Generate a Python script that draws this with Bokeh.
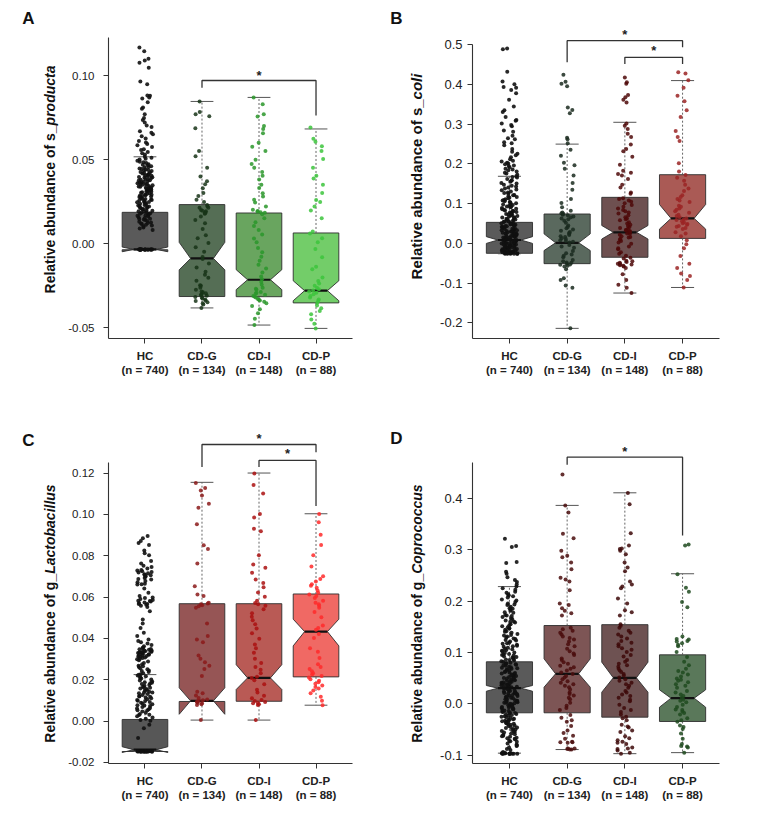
import math
from bokeh.plotting import figure
from bokeh.models import ColumnDataSource, FixedTicker, NumeralTickFormatter
from bokeh.transform import jitter
from bokeh.layouts import row, column
from bokeh.embed import file_html
from bokeh.resources import INLINE
from bokeh.core.properties import value

# ---------------- shared categories ----------------
categories = ["HC", "CD-G", "CD-I", "CD-P"]
n_labels = ["(n = 740)", "(n = 134)", "(n = 148)", "(n = 88)"]

# ---------------- Panel A : s_producta ----------------
A_yticks = [-0.05, 0.0, 0.05, 0.10]
A_whis_lo = [-0.0036, -0.0383, -0.0485, -0.0505]
A_q1 = [-0.0036, -0.0315, -0.0316, -0.0353]
A_notch_lo = [-0.0048, -0.0156, -0.0274, -0.0340]
A_median = [-0.0034, -0.0088, -0.0215, -0.0280]
A_notch_hi = [-0.0020, 0.0008, -0.0155, -0.0221]
A_q3 = [0.0187, 0.0233, 0.0183, 0.0064]
A_whis_hi = [0.0518, 0.0848, 0.0872, 0.0684]
A_HC = [-0.0036, -0.0035, -0.0034, -0.0035, -0.0036, -0.0034, -0.0035, -0.0033, -0.0035, -0.0034,
        -0.0036, -0.0035, -0.0034, -0.0035, 0.0082, 0.0097, 0.0104, 0.0113, 0.0118, 0.0127, 0.0131,
        0.0141, 0.0147, 0.0153, 0.0158, 0.0166, 0.0171, 0.0176, 0.0185, 0.0191, 0.0196, 0.0204, 0.0211,
        0.0216, 0.0222, 0.0228, 0.0234, 0.0241, 0.0245, 0.0252, 0.0259, 0.0263, 0.0268, 0.0275, 0.0281,
        0.0287, 0.0292, 0.0297, 0.0304, 0.0309, 0.0315, 0.0321, 0.0326, 0.0333, 0.0337, 0.0344, 0.0349,
        0.0356, 0.0361, 0.0367, 0.0372, 0.0378, 0.0386, 0.0391, 0.0397, 0.0405, 0.0412, 0.0418, 0.0425,
        0.0433, 0.0442, 0.0448, 0.0457, 0.0467, 0.0474, 0.0485, 0.0494, 0.0507, 0.0518, 0.0532, 0.0546,
        0.0563, 0.0577, 0.0594, 0.0612, 0.0627, 0.0653, 0.0671, 0.0695, 0.0722, 0.0749, 0.0772, 0.0805,
        0.0843, 0.0866, 0.0882, 0.0951, 0.0967, 0.1049, 0.1078, 0.1102, 0.1147, 0.1169,
        -0.0035, -0.0034, -0.0036, -0.0035, -0.0033, 0.0091, 0.0108, 0.0123, 0.0136, 0.0144, 0.0162,
        0.0169, 0.0181, 0.0188, 0.0199, 0.0207, 0.0218, 0.0225, 0.0238, 0.0249, 0.0255, 0.0266, 0.0272,
        0.0284, 0.0289, 0.0301, 0.0312, 0.0318, 0.0329, 0.0335, 0.0341, 0.0352, 0.0358, 0.0364, 0.0376,
        0.0383, 0.0394, 0.0401, 0.0409, 0.0415, 0.0422, 0.0437, 0.0445, 0.0462, 0.0481, 0.0502, 0.0539,
        0.0587, 0.0641, 0.0705, 0.0812, 0.0884, 0.1092,
        0.0121, 0.0149, 0.0178, 0.0194, 0.0213, 0.0231, 0.0247, 0.0261, 0.0279, 0.0294, 0.0306,
        0.0323, 0.0339, 0.0354, 0.0369, 0.0381, 0.0396, 0.0408, 0.0427, 0.0439, 0.0455, 0.0471,
        0.0489, 0.0512, 0.0558, 0.0603, 0.0662, 0.0738, 0.0872]
A_CDG = [0.0848, 0.0785, 0.0772, 0.0760, 0.0688, 0.0553, 0.0521, 0.0452, 0.0401, 0.0372, 0.0355,
         0.0331, 0.0302, 0.0285, 0.0262, 0.0248, 0.0231, 0.0222, 0.0214, 0.0201, 0.0193, 0.0188,
         0.0179, 0.0162, 0.0141, 0.0122, 0.0088, 0.0051, 0.0032, 0.0004, -0.0021, -0.0048, -0.0079,
         -0.0092, -0.0118, -0.0142, -0.0168, -0.0185, -0.0203, -0.0221, -0.0248, -0.0262, -0.0274,
         -0.0289, -0.0295, -0.0302, -0.0311, -0.0318, -0.0326, -0.0333, -0.0341, -0.0349, -0.0355,
         -0.0362, -0.0383, 0.0215, 0.0196, 0.0182, -0.0251, -0.0285, -0.0306, -0.0322, -0.0338]
A_CDI = [0.0872, 0.0831, 0.0772, 0.0758, 0.0701, 0.0683, 0.0659, 0.0602, 0.0578, 0.0552, 0.0501,
         0.0475, 0.0452, 0.0428, 0.0405, 0.0382, 0.0351, 0.0332, 0.0301, 0.0281, 0.0262, 0.0245,
         0.0221, 0.0203, 0.0195, 0.0188, 0.0176, 0.0152, 0.0128, 0.0105, 0.0082, 0.0055, 0.0031,
         0.0008, -0.0025, -0.0051, -0.0078, -0.0102, -0.0125, -0.0148, -0.0172, -0.0195, -0.0212,
         -0.0228, -0.0245, -0.0262, -0.0275, -0.0288, -0.0297, -0.0305, -0.0312, -0.0321, -0.0329,
         -0.0338, -0.0346, -0.0355, -0.0372, -0.0391, -0.0415, -0.0448, -0.0485, 0.0192, 0.0185,
         -0.0268, -0.0292, -0.0316, -0.0334]
A_CDP = [0.0692, 0.0625, 0.0608, 0.0581, 0.0552, 0.0505, 0.0452, 0.0405, 0.0388, 0.0351, 0.0302,
         0.0261, 0.0248, 0.0221, 0.0198, 0.0152, 0.0072, 0.0061, 0.0032, 0.0008, -0.0032, -0.0081,
         -0.0138, -0.0152, -0.0201, -0.0222, -0.0238, -0.0251, -0.0262, -0.0271, -0.0279, -0.0285,
         -0.0292, -0.0301, -0.0312, -0.0321, -0.0332, -0.0341, -0.0352, -0.0368, -0.0385, -0.0402,
         -0.0421, -0.0452, -0.0478, -0.0505]
A_br_from = [2]
A_br_to = [4]
A_br_top = [0.0973]
A_br_left = [0.0929]
A_br_right = [0.0764]
A_star_y = [0.1003]

# ---------------- Panel B : s_coli ----------------
B_yticks = [-0.2, -0.1, 0.0, 0.1, 0.2, 0.3, 0.4, 0.5]
B_whis_lo = [-0.026, -0.214, -0.125, -0.111]
B_q1 = [-0.025, -0.051, -0.035, 0.0126]
B_notch_lo = [0.000, -0.018, 0.011, 0.036]
B_median = [0.0085, 0.0015, 0.028, 0.063]
B_notch_hi = [0.017, 0.024, 0.045, 0.098]
B_q3 = [0.053, 0.074, 0.116, 0.173]
B_whis_hi = [0.169, 0.250, 0.305, 0.410]
B_HC = [-0.027, -0.026, -0.026, -0.025, -0.025, -0.024, -0.023, -0.022, -0.021, -0.020, -0.019,
        -0.018, -0.016, -0.015, -0.013, -0.012, -0.010, -0.009, -0.007, -0.006, -0.004, -0.003,
        -0.001, 0.000, 0.002, 0.003, 0.005, 0.006, 0.008, 0.009, 0.011, 0.013, 0.015, 0.017, 0.019,
        0.021, 0.023, 0.025, 0.028, 0.030, 0.033, 0.035, 0.038, 0.041, 0.044, 0.047, 0.050, 0.053,
        0.056, 0.059, 0.062, 0.066, 0.070, 0.073, 0.077, 0.081, 0.085, 0.089, 0.093, 0.097, 0.101,
        0.106, 0.111, 0.117, 0.122, 0.128, 0.134, 0.141, 0.148, 0.155, 0.162, 0.169, 0.176, 0.184,
        0.192, 0.199, 0.203, 0.208, 0.217, 0.226, 0.238, 0.247, 0.255, 0.262, 0.271, 0.284, 0.295,
        0.302, 0.311, 0.318, 0.331, 0.345, 0.362, 0.378, 0.386, 0.392, 0.401, 0.408, 0.432, 0.491, 0.489,
        -0.026, -0.025, -0.024, -0.022, -0.020, -0.017, -0.014, -0.011, -0.008, -0.005, -0.002, 0.001,
        0.004, 0.007, 0.010, 0.012, 0.014, 0.016, 0.018, 0.020, 0.022, 0.024, 0.027, 0.029, 0.031,
        0.034, 0.036, 0.039, 0.042, 0.045, 0.048, 0.051, 0.055, 0.058, 0.061, 0.064, 0.068, 0.072,
        0.075, 0.079, 0.083, 0.087, 0.091, 0.095, 0.099, 0.104, 0.109, 0.114, 0.119, 0.125, 0.131,
        0.138, 0.145, 0.152, 0.159, 0.166, 0.173, 0.181, 0.188, 0.195, 0.201, 0.212, 0.231, 0.265,
        0.298, 0.335, 0.394,
        -0.026, -0.025, -0.023, -0.021, -0.018, -0.015, -0.012, -0.009, -0.006, -0.003, 0.000, 0.003,
        0.006, 0.009, 0.012, 0.015, 0.018, 0.021, 0.024, 0.027, 0.030, 0.033, 0.037, 0.040, 0.043,
        0.046, 0.049, 0.054, 0.057, 0.060, 0.065, 0.069, 0.074, 0.078, 0.082, 0.086, 0.092, 0.098,
        0.103, 0.108, 0.115, 0.121, 0.127, 0.136, 0.143, 0.151, 0.158, 0.167, 0.178, 0.186, 0.196,
        0.206, 0.222, 0.252, 0.281, 0.309]
B_CDG = [-0.214, -0.112, -0.106, -0.092, -0.088, -0.065, -0.058, -0.054, -0.051, -0.048, -0.042,
         -0.035, -0.028, -0.019, -0.011, -0.004, 0.002, 0.006, 0.011, 0.016, 0.021, 0.026, 0.032,
         0.038, 0.045, 0.052, 0.061, 0.068, 0.072, 0.076, 0.082, 0.091, 0.102, 0.112, 0.135, 0.152,
         0.171, 0.188, 0.197, 0.203, 0.221, 0.236, 0.252, 0.262, 0.266, 0.328, 0.336, 0.342, 0.396,
         0.402, 0.407, 0.425, -0.056, -0.049, -0.031, 0.008, 0.018, 0.035, 0.066, 0.071, 0.078,
         -0.053, -0.045, -0.025, -0.008, 0.004, 0.013, 0.024, 0.029, 0.041, 0.057, 0.063, 0.074]
B_CDI = [-0.125, -0.112, -0.104, -0.092, -0.078, -0.062, -0.058, -0.053, -0.049, -0.045, -0.038,
         -0.031, -0.022, -0.015, -0.008, -0.001, 0.006, 0.012, 0.018, 0.022, 0.027, 0.031, 0.036,
         0.041, 0.047, 0.053, 0.058, 0.063, 0.071, 0.078, 0.084, 0.092, 0.101, 0.108, 0.114, 0.128,
         0.148, 0.162, 0.171, 0.178, 0.183, 0.198, 0.218, 0.238, 0.249, 0.268, 0.276, 0.288, 0.296,
         0.302, 0.355, 0.362, 0.368, 0.374, 0.402, 0.406, 0.418, -0.055, -0.051, -0.047, 0.015,
         0.024, 0.033, 0.044, 0.066, 0.088, -0.056, -0.052, -0.044, -0.036, -0.026, -0.012, 0.002,
         0.009, 0.016, 0.025, 0.029, 0.034, 0.039, 0.050, 0.061, 0.075, 0.081, 0.097, 0.105, 0.112,
         0.125, 0.141, 0.175, 0.232]
B_CDP = [-0.111, -0.092, -0.082, -0.076, -0.062, -0.051, -0.032, -0.012, -0.002, 0.008, 0.018,
         0.028, 0.036, 0.042, 0.047, 0.051, 0.056, 0.061, 0.066, 0.072, 0.081, 0.088, 0.095, 0.104,
         0.112, 0.121, 0.132, 0.148, 0.158, 0.172, 0.181, 0.202, 0.258, 0.268, 0.283, 0.318, 0.335,
         0.358, 0.372, 0.392, 0.411, 0.428, 0.431, 0.025, 0.039, 0.044, 0.049, 0.053, 0.059, 0.063,
         0.069, 0.077, 0.085, 0.092, 0.108, 0.117, 0.138, 0.165]
B_br_from = [2, 3]
B_br_to = [4, 4]
B_br_top = [0.5106, 0.4686]
B_br_left = [0.456, 0.452]
B_br_right = [0.494, 0.452]
B_star_y = [0.527, 0.485]

# ---------------- Panel C : g_Lactobacillus ----------------
C_yticks = [-0.02, 0.0, 0.02, 0.04, 0.06, 0.08, 0.10, 0.12]
C_whis_lo = [-0.0147, 0.0005, 0.0005, 0.0077]
C_q1 = [-0.0147, 0.0095, 0.0096, 0.0214]
C_notch_lo = [-0.0152, 0.0033, 0.0153, 0.0364]
C_median = [-0.0138, 0.0098, 0.0209, 0.0433]
C_notch_hi = [-0.0124, 0.0161, 0.0273, 0.0493]
C_q3 = [0.0008, 0.0568, 0.0568, 0.0615]
C_whis_hi = [0.0225, 0.1155, 0.1200, 0.1003]
C_HC = [-0.0148, -0.0147, -0.0146, -0.0145, -0.0147, -0.0146, -0.0148, -0.0145, -0.0147, -0.0146,
        -0.0145, -0.0147, -0.0146, -0.0148, -0.0082, -0.0035, -0.0018, 0.0002, 0.0011, 0.0023,
        0.0035, 0.0041, 0.0052, 0.0061, 0.0068, 0.0077, 0.0085, 0.0093, 0.0102, 0.0111, 0.0118,
        0.0126, 0.0135, 0.0142, 0.0151, 0.0158, 0.0166, 0.0175, 0.0183, 0.0192, 0.0201, 0.0212,
        0.0221, 0.0232, 0.0245, 0.0256, 0.0268, 0.0281, 0.0295, 0.0302, 0.0308, 0.0315, 0.0321,
        0.0326, 0.0331, 0.0335, 0.0338, 0.0342, 0.0348, 0.0356, 0.0368, 0.0382, 0.0395, 0.0412,
        0.0428, 0.0451, 0.0472, 0.0492, 0.0531, 0.0552, 0.0563, 0.0571, 0.0578, 0.0586, 0.0595,
        0.0605, 0.0621, 0.0642, 0.0661, 0.0672, 0.0685, 0.0698, 0.0706, 0.0715, 0.0725, 0.0738,
        0.0752, 0.0775, 0.0802, 0.0825, 0.0852, 0.0871, 0.0884, 0.0896,
        -0.0147, -0.0146, -0.0148, -0.0145, -0.0147, -0.0146, 0.0006, 0.0017, 0.0029, 0.0046, 0.0057,
        0.0064, 0.0073, 0.0081, 0.0089, 0.0097, 0.0106, 0.0114, 0.0122, 0.0131, 0.0139, 0.0147,
        0.0155, 0.0162, 0.0171, 0.0179, 0.0188, 0.0196, 0.0206, 0.0217, 0.0227, 0.0238, 0.0251,
        0.0262, 0.0275, 0.0288, 0.0305, 0.0312, 0.0318, 0.0324, 0.0329, 0.0333, 0.0337, 0.0345,
        0.0352, 0.0362, 0.0375, 0.0388, 0.0558, 0.0566, 0.0574, 0.0582, 0.0591, 0.0662, 0.0678,
        0.0692, 0.0702, 0.0711, 0.0721, 0.0731, 0.0745, 0.0762, 0.0812, 0.0862,
        0.0031, 0.0052, 0.0075, 0.0098, 0.0119, 0.0138, 0.0161, 0.0185, 0.0208, 0.0224, 0.0243,
        0.0265, 0.0299, 0.0311, 0.0319, 0.0327, 0.0332, 0.0336, 0.0341, 0.0349, 0.0566, 0.0581,
        0.0598, 0.0665, 0.0688, 0.0708, 0.0719, 0.0728, -0.0147, -0.0146, -0.0145]
C_CDG = [0.0005, 0.0078, 0.0082, 0.0086, 0.0089, 0.0092, 0.0095, 0.0098, 0.0101, 0.0105, 0.0112,
         0.0124, 0.0135, 0.0142, 0.0218, 0.0252, 0.0268, 0.0285, 0.0302, 0.0318, 0.0381, 0.0395,
         0.0412, 0.0472, 0.0548, 0.0556, 0.0561, 0.0565, 0.0569, 0.0573, 0.0605, 0.0612, 0.0652,
         0.0762, 0.0832, 0.0851, 0.0952, 0.1032, 0.1052, 0.1091, 0.1115, 0.1128, 0.1152]
C_CDI = [0.0005, 0.0078, 0.0082, 0.0086, 0.0089, 0.0093, 0.0097, 0.0102, 0.0111, 0.0123, 0.0138,
         0.0152, 0.0178, 0.0198, 0.0208, 0.0215, 0.0232, 0.0248, 0.0262, 0.0281, 0.0302, 0.0331,
         0.0352, 0.0371, 0.0398, 0.0425, 0.0448, 0.0468, 0.0488, 0.0505, 0.0522, 0.0541, 0.0558,
         0.0565, 0.0571, 0.0582, 0.0602, 0.0622, 0.0648, 0.0668, 0.0685, 0.0718, 0.0742, 0.0758,
         0.0802, 0.0918, 0.0931, 0.0985, 0.1002, 0.1101, 0.1142, 0.1198]
C_CDP = [0.0077, 0.0098, 0.0118, 0.0135, 0.0148, 0.0158, 0.0165, 0.0172, 0.0181, 0.0188, 0.0195,
         0.0202, 0.0211, 0.0218, 0.0225, 0.0232, 0.0241, 0.0252, 0.0262, 0.0275, 0.0305, 0.0335,
         0.0352, 0.0402, 0.0421, 0.0442, 0.0451, 0.0462, 0.0502, 0.0528, 0.0548, 0.0558, 0.0565,
         0.0572, 0.0582, 0.0595, 0.0605, 0.0612, 0.0621, 0.0632, 0.0645, 0.0655, 0.0662, 0.0675,
         0.0688, 0.0701, 0.0748, 0.0802, 0.0852, 0.0902, 0.0962, 0.1002]
C_br_from = [2, 3]
C_br_to = [4, 4]
C_br_top = [0.1338, 0.1261]
C_br_left = [0.1229, 0.1229]
C_br_right = [0.1301, 0.1040]
C_star_y = [0.1366, 0.1294]

# ---------------- Panel D : g_Coprococcus ----------------
D_yticks = [-0.1, 0.0, 0.1, 0.2, 0.3, 0.4]
D_whis_lo = [-0.096, -0.089, -0.097, -0.095]
D_q1 = [-0.0175, -0.0175, -0.026, -0.0344]
D_notch_lo = [0.0245, 0.0323, 0.0226, -0.0066]
D_median = [0.0304, 0.0584, 0.0506, 0.011]
D_notch_hi = [0.0356, 0.0875, 0.081, 0.0272]
D_q3 = [0.0817, 0.1523, 0.154, 0.0953]
D_whis_hi = [0.228, 0.386, 0.4105, 0.253]
D_HC = [-0.097, -0.097, -0.096, -0.097, -0.096, -0.097, -0.096, -0.097, -0.096, -0.097,
        -0.088, -0.082, -0.079, -0.074, -0.072, -0.067, -0.064, -0.062, -0.058, -0.055, -0.053,
        -0.049, -0.047, -0.043, -0.041, -0.038, -0.035, -0.034, -0.031, -0.027, -0.026, -0.023,
        -0.021, -0.018, -0.016, -0.014, -0.011, -0.009, -0.008, -0.005, -0.004, -0.001, 0.001,
        0.003, 0.004, 0.007, 0.008, 0.011, 0.012, 0.015, 0.016, 0.019, 0.021, 0.022, 0.025, 0.026,
        0.029, 0.031, 0.032, 0.034, 0.037, 0.038, 0.041, 0.042, 0.045, 0.047, 0.049, 0.052, 0.053,
        0.056, 0.058, 0.061, 0.063, 0.066, 0.068, 0.071, 0.074, 0.077, 0.079, 0.083, 0.085, 0.089,
        0.092, 0.095, 0.097, 0.102, 0.104, 0.109, 0.112, 0.117, 0.119, 0.124, 0.127, 0.133, 0.136,
        0.141, 0.146, 0.151, 0.158, 0.162, 0.169, 0.173, 0.181, 0.185, 0.192, 0.198, 0.207, 0.213,
        0.222, 0.228, 0.237, 0.246, 0.253, 0.257, 0.274, 0.276, 0.305, 0.307, 0.321,
        -0.097, -0.096, -0.097, -0.096, -0.085, -0.077, -0.069, -0.066, -0.060, -0.056, -0.051,
        -0.045, -0.042, -0.039, -0.036, -0.032, -0.029, -0.024, -0.022, -0.019, -0.017, -0.013,
        -0.010, -0.007, -0.003, 0.000, 0.002, 0.005, 0.009, 0.013, 0.017, 0.020, 0.023, 0.027,
        0.030, 0.033, 0.036, 0.039, 0.043, 0.046, 0.050, 0.054, 0.057, 0.060, 0.065, 0.069, 0.072,
        0.076, 0.080, 0.084, 0.087, 0.091, 0.096, 0.100, 0.106, 0.111, 0.115, 0.121, 0.126, 0.131,
        0.138, 0.144, 0.149, 0.155, 0.160, 0.166, 0.171, 0.177, 0.183, 0.189, 0.195, 0.203, 0.211,
        0.218, 0.232, 0.241,
        -0.094, -0.090, -0.081, -0.073, -0.068, -0.063, -0.059, -0.054, -0.050, -0.046, -0.040,
        -0.037, -0.033, -0.030, -0.025, -0.020, -0.015, -0.012, -0.006, -0.002, 0.002, 0.006,
        0.010, 0.014, 0.018, 0.021, 0.024, 0.028, 0.031, 0.035, 0.038, 0.040, 0.044, 0.048, 0.051,
        0.055, 0.059, 0.062, 0.067, 0.070, 0.075, 0.078, 0.082, 0.086, 0.090, 0.094, 0.099, 0.103,
        0.107, 0.113, 0.118, 0.123, 0.129, 0.134, 0.140, 0.147, 0.153, 0.159, 0.165, 0.172, 0.178,
        0.186, 0.193, 0.201, 0.209, 0.216, 0.225]
D_CDG = [-0.089, -0.089, -0.088, -0.087, -0.076, -0.075, -0.074, -0.062, -0.052, -0.043, -0.032,
         -0.022, -0.012, -0.004, 0.002, 0.009, 0.016, 0.022, 0.028, 0.035, 0.041, 0.048, 0.054,
         0.061, 0.068, 0.074, 0.081, 0.088, 0.095, 0.102, 0.112, 0.121, 0.128, 0.135, 0.142, 0.148,
         0.172, 0.181, 0.186, 0.192, 0.221, 0.238, 0.245, 0.262, 0.275, 0.288, 0.298, 0.322, 0.331,
         0.372, 0.386, 0.446, -0.068, -0.035, 0.012, 0.044, 0.058, 0.065, 0.107, 0.125, 0.138,
         -0.087, -0.075, -0.057, -0.027, -0.008, 0.019, 0.032, 0.038, 0.051, 0.071, 0.078, 0.085,
         0.098, 0.116, 0.131, 0.145, 0.176, 0.195, 0.242, 0.285]
D_CDI = [-0.097, -0.091, -0.088, -0.085, -0.078, -0.074, -0.071, -0.063, -0.055, -0.046, -0.041,
         -0.032, -0.025, -0.016, -0.008, -0.002, 0.005, 0.012, 0.018, 0.025, 0.031, 0.038, 0.045,
         0.051, 0.058, 0.065, 0.072, 0.078, 0.085, 0.092, 0.101, 0.108, 0.116, 0.122, 0.131, 0.138,
         0.148, 0.155, 0.172, 0.182, 0.195, 0.205, 0.225, 0.232, 0.238, 0.258, 0.275, 0.291, 0.298,
         0.302, 0.308, 0.332, 0.388, 0.410, -0.052, -0.021, 0.008, 0.041, 0.055, 0.062, 0.095,
         0.112, 0.127, -0.095, -0.087, -0.076, -0.067, -0.044, -0.028, -0.012, 0.015, 0.022, 0.035,
         0.048, 0.068, 0.075, 0.082, 0.105, 0.119, 0.135, 0.142, 0.152, 0.178, 0.228, 0.265, 0.301]
D_CDP = [-0.095, -0.085, -0.082, -0.078, -0.068, -0.058, -0.049, -0.042, -0.035, -0.028, -0.021,
         -0.015, -0.011, -0.006, -0.002, 0.003, 0.008, 0.012, 0.018, 0.025, 0.031, 0.038, 0.045,
         0.049, 0.053, 0.061, 0.068, 0.075, 0.082, 0.091, 0.101, 0.112, 0.118, 0.122, 0.126, 0.131,
         0.188, 0.198, 0.218, 0.226, 0.252, 0.308, 0.310, -0.083, -0.045, -0.032, -0.018, -0.012,
         0.006, 0.015, 0.022, 0.035, 0.042, 0.047, 0.057, 0.064, 0.115, 0.121, 0.125]
D_br_from = [2]
D_br_to = [4]
D_br_top = [0.4798]
D_br_left = [0.4650]
D_br_right = [0.3274]
D_star_y = [0.4914]

# ---------------- colours ----------------
A_box_colors = ["#5a5a5a", "#556e55", "#69a55f", "#73cd69"]
A_pt_colors = ["#111111", "#173417", "#2a962a", "#3cc43c"]
B_box_colors = ["#5a5a5a", "#5a695e", "#6e5050", "#aa5a55"]
B_pt_colors = ["#111111", "#1a2a1e", "#4d0808", "#9b2525"]
C_box_colors = ["#575757", "#965555", "#b95a55", "#f06964"]
C_pt_colors = ["#111111", "#8b1a1a", "#aa1111", "#ff2a2a"]
D_box_colors = ["#5a5a5a", "#7d5555", "#6e5252", "#5a785a"]
D_pt_colors = ["#111111", "#4a0d0d", "#3d0808", "#1f4a1f"]

FONT = "Liberation Sans"
BOLD_W = {'R': .722, 'e': .556, 'l': .278, 'a': .556, 't': .333, 'i': .278, 'v': .556, ' ': .278,
          'b': .611, 'u': .611, 'n': .611, 'd': .611, 'c': .556, 'o': .611, 'f': .333, 's': .556,
          '_': .556, 'p': .611, 'r': .389, 'g': .611, 'L': .611, 'C': .722}


def text_w(s, size):
    return sum(BOLD_W.get(ch, 0.6) for ch in s) * size


def make_strip(cfg):
    """Narrow figure holding the panel letter and the rotated y-axis title.
    Its frame has the same height as the panel frame (row alignment), so
    coordinates are pixels measured from the top of the figure."""
    W = cfg["sw"]
    FH = cfg["h"] - cfg["bb"]
    s = figure(width=W, height=cfg["h"], x_range=(0, W), y_range=(0, FH), x_axis_type=None,
               y_axis_type=None, output_backend="svg", toolbar_location=None,
               min_border_left=0, min_border_right=0, min_border_top=0,
               min_border_bottom=cfg["bb"])
    s.xgrid.visible = False
    s.ygrid.visible = False
    s.outline_line_color = None
    s.background_fill_color = "white"
    s.border_fill_color = "white"
    lx, ly = cfg["letter_xy"]
    s.text(x=[lx], y=[FH - ly], text=[cfg["letter"]], text_align="center", text_baseline="middle",
           text_font=value(FONT), text_font_size="17px", text_font_style="bold", text_color="#111111")
    fs = cfg["title_fs"]
    w1 = text_w(cfg["title_plain"], fs)
    w2 = text_w(cfg["title_italic"], fs)
    joint = cfg["title_cy"] + (w1 + w2) / 2 - w1
    tx = cfg["title_x"]
    s.text(x=[tx], y=[FH - joint], text=[cfg["title_plain"]], angle=math.pi / 2, text_align="right",
           text_baseline="middle", text_font=value(FONT), text_font_size=f"{fs}px",
           text_font_style="bold", text_color="#111111")
    s.text(x=[tx], y=[FH - joint], text=[cfg["title_italic"]], angle=math.pi / 2, text_align="left",
           text_baseline="middle", text_font=value(FONT), text_font_size=f"{fs}px",
           text_font_style="bold italic", text_color="#111111")
    return s


def make_panel(cfg):
    x0, x1 = 0.36, 4.64
    y0, y1 = cfg["yr"]
    p = figure(width=cfg["w"] - cfg["sw"], height=cfg["h"], x_range=(x0, x1), y_range=(y0, y1),
               output_backend="svg", toolbar_location=None,
               min_border_left=cfg["bl"], min_border_right=cfg["br"],
               min_border_top=0, min_border_bottom=cfg["bb"])
    p.xgrid.visible = False
    p.ygrid.visible = False
    p.outline_line_color = None
    p.background_fill_color = "white"
    p.border_fill_color = "white"

    # notched boxes (R bxp style)
    xs, ys = [], []
    w = 0.4
    for i in range(4):
        cx = i + 1
        q1, nlo, med = cfg["q1"][i], cfg["nlo"][i], cfg["med"][i]
        nhi, q3 = cfg["nhi"][i], cfg["q3"][i]
        xs.append([cx - w, cx + w, cx + w, cx + w / 2, cx + w, cx + w, cx - w, cx - w, cx - w / 2, cx - w])
        ys.append([q1, q1, nlo, med, nhi, q3, q3, nhi, med, nlo])
    p.patches(xs, ys, fill_color=cfg["box_colors"], line_color="#2e2e2e", line_width=0.9)

    cxs = [1, 2, 3, 4]
    wsrc = ColumnDataSource(dict(x=cxs, q1=cfg["q1"], q3=cfg["q3"], lo=cfg["wlo"], hi=cfg["whi"],
                                 xl=[c - 0.2 for c in cxs], xr=[c + 0.2 for c in cxs], med=cfg["med"]))
    p.segment(x0="x", y0="q3", x1="x", y1="hi", source=wsrc, line_color="#555555",
              line_width=0.9, line_dash="2 2")
    p.segment(x0="x", y0="q1", x1="x", y1="lo", source=wsrc, line_color="#555555",
              line_width=0.9, line_dash="2 2")
    p.segment(x0="xl", y0="hi", x1="xr", y1="hi", source=wsrc, line_color="#555555", line_width=1)
    p.segment(x0="xl", y0="lo", x1="xr", y1="lo", source=wsrc, line_color="#555555", line_width=1)
    p.segment(x0="xl", y0="med", x1="xr", y1="med", source=wsrc, line_color="#111111", line_width=2.2)

    # jittered points
    for i, pts in enumerate(cfg["points"]):
        src = ColumnDataSource(dict(x=[i + 1] * len(pts), y=pts))
        p.scatter(x=jitter("x", width=0.28 if i == 0 else 0.26), y="y", source=src, size=4,
                  fill_color=cfg["pt_colors"][i], line_color=None,
                  fill_alpha=0.9 if i == 0 else 0.85)

    # significance brackets
    for a, b, top, lft, rgt, sy in zip(cfg["bfrom"], cfg["bto"], cfg["btop"], cfg["bleft"],
                                       cfg["bright"], cfg["stary"]):
        p.line([a, a, b, b], [lft, top, top, rgt], line_color="#333333", line_width=1.3)
        p.text(x=[(a + b) / 2], y=[sy], text=["*"], text_align="center", text_baseline="middle",
               text_font=value(FONT), text_font_size="13px", text_font_style="bold",
               text_color="#222222")

    # axes
    yax = p.yaxis[0]
    yax.ticker = FixedTicker(ticks=cfg["yticks"])
    yax.formatter = NumeralTickFormatter(format=cfg["fmt"])
    yax.bounds = (y0, cfg["axis_top"])
    xax = p.xaxis[0]
    xax.ticker = FixedTicker(ticks=cxs)
    xax.major_label_overrides = {i + 1: f"{categories[i]}\n{n_labels[i]}" for i in range(4)}
    for ax in (xax, yax):
        ax.axis_line_color = "#333333"
        ax.axis_line_width = 1.1
        ax.major_tick_line_color = "#333333"
        ax.major_tick_in = 0
        ax.major_tick_out = 5
        ax.minor_tick_line_color = None
        ax.major_label_text_font = FONT
        ax.major_label_text_color = "#222222"
    yax.major_label_text_font_size = cfg["tick_fs"]
    yax.major_label_standoff = cfg["standoff"]
    xax.major_label_text_font_size = "11.5px"
    xax.major_label_text_font_style = "bold"
    xax.major_label_standoff = 6
    return p


cfgA = dict(w=384, h=420, sw=65, bl=40, br=32, bb=82, yr=(-0.05652, 0.14498),
            axis_top=0.1231, yticks=A_yticks, fmt="0.00", tick_fs="11.5px", standoff=9,
            q1=A_q1, nlo=A_notch_lo, med=A_median, nhi=A_notch_hi, q3=A_q3,
            wlo=A_whis_lo, whi=A_whis_hi, points=[A_HC, A_CDG, A_CDI, A_CDP],
            box_colors=A_box_colors, pt_colors=A_pt_colors,
            bfrom=A_br_from, bto=A_br_to, btop=A_br_top, bleft=A_br_left,
            bright=A_br_right, stary=A_star_y, letter="A", letter_xy=(28, 18),
            title_plain="Relative abundance of s_", title_italic="producta", title_fs=14,
            title_x=49, title_cy=179)
cfgB = dict(w=383, h=420, sw=48, bl=40, br=48, bb=82, yr=(-0.2395, 0.61168),
            axis_top=0.502, yticks=B_yticks, fmt="0.0", tick_fs="13px", standoff=5,
            q1=B_q1, nlo=B_notch_lo, med=B_median, nhi=B_notch_hi, q3=B_q3,
            wlo=B_whis_lo, whi=B_whis_hi, points=[B_HC, B_CDG, B_CDI, B_CDP],
            box_colors=B_box_colors, pt_colors=B_pt_colors,
            bfrom=B_br_from, bto=B_br_to, btop=B_br_top, bleft=B_br_left,
            bright=B_br_right, stary=B_star_y, letter="B", letter_xy=(12, 18),
            title_plain="Relative abundance of s_", title_italic="coli", title_fs=15,
            title_x=32, title_cy=176)
cfgC = dict(w=384, h=404, sw=65, bl=40, br=32, bb=61, yr=(-0.0205, 0.14541),
            axis_top=0.1252, yticks=C_yticks, fmt="0.00", tick_fs="11.5px", standoff=9,
            q1=C_q1, nlo=C_notch_lo, med=C_median, nhi=C_notch_hi, q3=C_q3,
            wlo=C_whis_lo, whi=C_whis_hi, points=[C_HC, C_CDG, C_CDI, C_CDP],
            box_colors=C_box_colors, pt_colors=C_pt_colors,
            bfrom=C_br_from, bto=C_br_to, btop=C_br_top, bleft=C_br_left,
            bright=C_br_right, stary=C_star_y, letter="C", letter_xy=(28, 20),
            title_plain="Relative abundance of g_", title_italic="Lactobacillus", title_fs=14,
            title_x=49, title_cy=193)
cfgD = dict(w=383, h=404, sw=48, bl=40, br=48, bb=61, yr=(-0.11615, 0.55117),
            axis_top=0.469, yticks=D_yticks, fmt="0.0", tick_fs="13px", standoff=5,
            q1=D_q1, nlo=D_notch_lo, med=D_median, nhi=D_notch_hi, q3=D_q3,
            wlo=D_whis_lo, whi=D_whis_hi, points=[D_HC, D_CDG, D_CDI, D_CDP],
            box_colors=D_box_colors, pt_colors=D_pt_colors,
            bfrom=D_br_from, bto=D_br_to, btop=D_br_top, bleft=D_br_left,
            bright=D_br_right, stary=D_star_y, letter="D", letter_xy=(12, 18),
            title_plain="Relative abundance of g_", title_italic="Coprococcus", title_fs=14,
            title_x=32, title_cy=193)

panels = [row(make_strip(c), make_panel(c), spacing=0) for c in (cfgA, cfgB, cfgC, cfgD)]
layout = column(row(panels[0], panels[1], spacing=0), row(panels[2], panels[3], spacing=0), spacing=0)
open("out.html", "w").write(file_html(layout, INLINE))
